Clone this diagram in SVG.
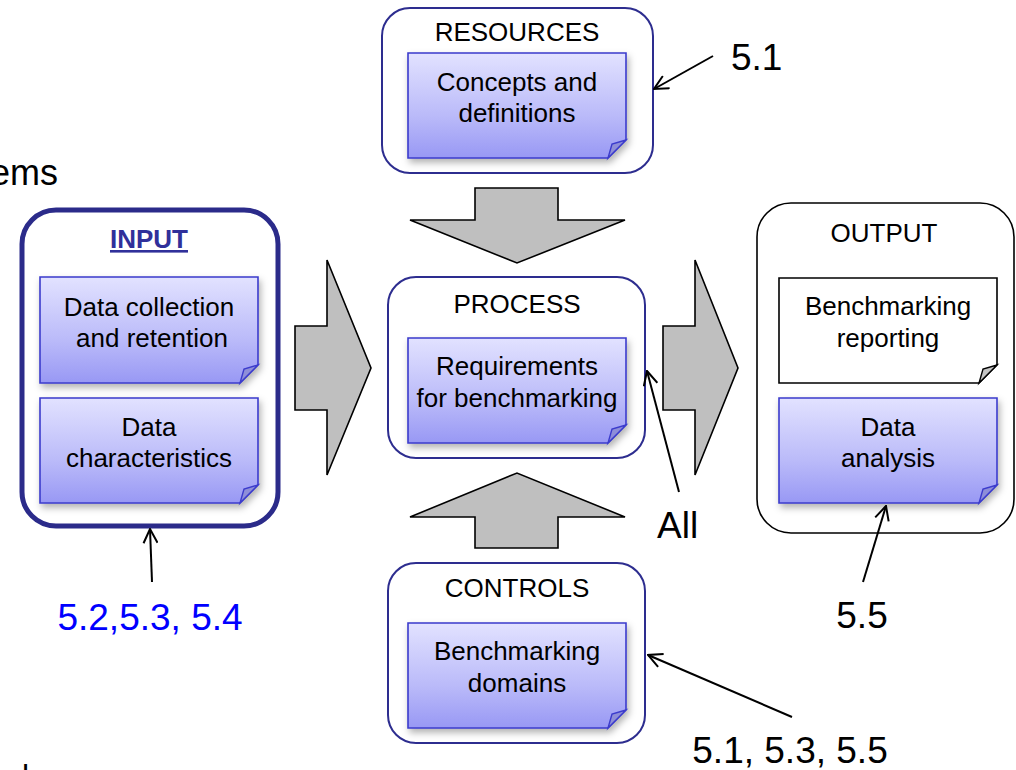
<svg xmlns="http://www.w3.org/2000/svg" width="1016" height="770" viewBox="0 0 1016 770">
  <defs>
    <linearGradient id="noteFill" x1="0" y1="0" x2="0" y2="1">
      <stop offset="0" stop-color="#e2e2ff"/>
      <stop offset="0.6" stop-color="#babaf9"/>
      <stop offset="1" stop-color="#9898f4"/>
    </linearGradient>
    <filter id="shadow" x="-10%" y="-10%" width="125%" height="135%">
      <feDropShadow dx="2" dy="4" stdDeviation="3.5" flood-color="#000" flood-opacity="0.3"/>
    </filter>
    <marker id="open" viewBox="0 0 16 16" refX="15" refY="8" markerWidth="16" markerHeight="16" markerUnits="userSpaceOnUse" orient="auto">
      <path d="M1,1 L15,8 L1,15" fill="none" stroke="#000" stroke-width="2"/>
    </marker>
  </defs>
  <style>
    text { font-family: "Liberation Sans", Arial, sans-serif; fill: #000; }
    .t { font-size: 26px; text-anchor: middle; }
    .lbl { font-size: 37px; }
    .frame { fill: #fff; stroke: #2d2d8f; stroke-width: 2; }
    .note { fill: url(#noteFill); stroke: #3b3bcc; stroke-width: 1.6; filter: url(#shadow); }
    .fold { fill: #8e8ed8; stroke: #3b3bcc; stroke-width: 1.4; }
    .plain { fill: #fff; stroke: #000; stroke-width: 1.6; }
    .pfold { fill: #c4c4c4; stroke: #000; stroke-width: 1.4; }
    .big { fill: #bfbfbf; stroke: #000; stroke-width: 1.6; stroke-linejoin: miter; }
    .conn { fill: none; stroke: #000; stroke-width: 2; marker-end: url(#open); }
  </style>

  <rect width="1016" height="770" fill="#fff"/>

  <!-- clipped fragments of surrounding page text -->
  <text x="58" y="185" font-size="36" text-anchor="end">ems</text>
  <text x="22" y="787" font-size="32">l</text>

  <!-- broad flow arrows -->
  <g id="flow-arrows">
    <polygon class="big" points="475,188 558,188 558,220 625,220 517,263 410,220 475,220"/>
    <polygon class="big" points="475,548 558,548 558,517 625,517 517,473 410,517 475,517"/>
    <polygon class="big" points="295,326 327,326 327,260 371,368 327,475 327,410 295,410"/>
    <polygon class="big" points="663,326 695,326 695,260 738,368 695,475 695,410 663,410"/>
  </g>

  <!-- INPUT -->
  <g id="input">
    <rect x="22" y="210" width="256" height="316" rx="34" fill="#fff" stroke="#2b2b8a" stroke-width="5"/>
    <text x="149" y="248" font-size="26" font-weight="bold" text-anchor="middle" style="fill:#30309a" text-decoration="underline">INPUT</text>
    <g id="data-collection">
      <path class="note" d="M40,277 H258 V365 L240,383 H40 Z"/>
      <path class="fold" d="M258,365 L244,369 L240,383 Z"/>
      <text class="t" x="149" y="316">Data collection</text>
      <text class="t" x="152" y="347">and retention</text>
    </g>
    <g id="data-characteristics">
      <path class="note" d="M40,398 H258 V485 L240,503 H40 Z"/>
      <path class="fold" d="M258,485 L244,489 L240,503 Z"/>
      <text class="t" x="149" y="436">Data</text>
      <text class="t" x="149" y="467">characteristics</text>
    </g>
  </g>

  <!-- RESOURCES -->
  <g id="resources">
    <rect class="frame" x="382" y="8" width="271" height="165" rx="28"/>
    <text class="t" x="517" y="41">RESOURCES</text>
    <g id="concepts">
      <path class="note" d="M408,53 H626 V140 L608,158 H408 Z"/>
      <path class="fold" d="M626,140 L612,144 L608,158 Z"/>
      <text class="t" x="517" y="91">Concepts and</text>
      <text class="t" x="517" y="122">definitions</text>
    </g>
  </g>

  <!-- PROCESS -->
  <g id="process">
    <rect class="frame" x="388" y="277" width="257" height="181" rx="28"/>
    <text class="t" x="517" y="313">PROCESS</text>
    <g id="requirements">
      <path class="note" d="M408,338 H626 V425 L608,443 H408 Z"/>
      <path class="fold" d="M626,425 L612,429 L608,443 Z"/>
      <text class="t" x="517" y="375">Requirements</text>
      <text class="t" x="517" y="407">for benchmarking</text>
    </g>
  </g>

  <!-- CONTROLS -->
  <g id="controls">
    <rect class="frame" x="388" y="563" width="257" height="180" rx="28"/>
    <text class="t" x="517" y="597">CONTROLS</text>
    <g id="domains">
      <path class="note" d="M408,623 H626 V710 L608,728 H408 Z"/>
      <path class="fold" d="M626,710 L612,714 L608,728 Z"/>
      <text class="t" x="517" y="660">Benchmarking</text>
      <text class="t" x="517" y="692">domains</text>
    </g>
  </g>

  <!-- OUTPUT -->
  <g id="output">
    <rect x="757" y="203" width="257" height="330" rx="34" fill="#fff" stroke="#000" stroke-width="1.6"/>
    <text class="t" x="884" y="242">OUTPUT</text>
    <g id="reporting">
      <path class="plain" d="M779,278 H997 V365 L979,383 H779 Z"/>
      <path class="pfold" d="M997,365 L983,369 L979,383 Z"/>
      <text class="t" x="888" y="315">Benchmarking</text>
      <text class="t" x="888" y="347">reporting</text>
    </g>
    <g id="analysis">
      <path class="note" d="M779,398 H997 V485 L979,503 H779 Z"/>
      <path class="fold" d="M997,485 L983,489 L979,503 Z"/>
      <text class="t" x="888" y="436">Data</text>
      <text class="t" x="888" y="467">analysis</text>
    </g>
  </g>

  <!-- reference connectors -->
  <g id="connectors">
    <line class="conn" x1="713" y1="56" x2="654" y2="89"/>
    <line class="conn" x1="679" y1="492" x2="647" y2="371"/>
    <line class="conn" x1="152" y1="582" x2="150" y2="529"/>
    <line class="conn" x1="863" y1="582" x2="886" y2="506"/>
    <line class="conn" x1="792" y1="717" x2="648" y2="655"/>
  </g>

  <!-- reference labels -->
  <g id="labels">
    <text class="lbl" x="731" y="70">5.1</text>
    <text class="lbl" x="657" y="538">All</text>
    <text class="lbl" x="150" y="630" text-anchor="middle" style="fill:#0000ff">5.2,5.3, 5.4</text>
    <text class="lbl" x="862" y="628" text-anchor="middle">5.5</text>
    <text class="lbl" x="790" y="763" text-anchor="middle">5.1, 5.3, 5.5</text>
  </g>
</svg>
